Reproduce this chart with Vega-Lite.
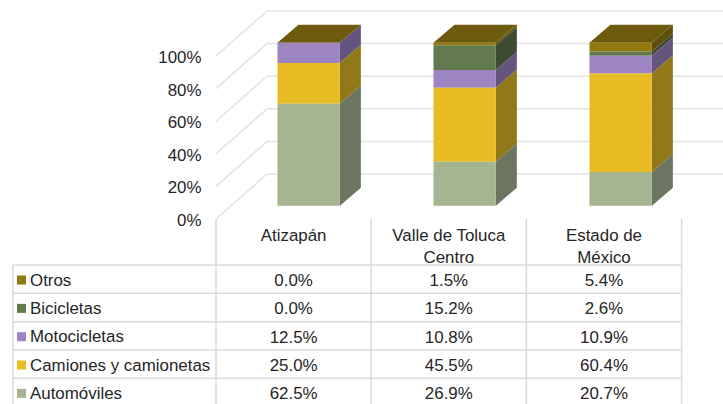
{"$schema":"https://vega.github.io/schema/vega-lite/v6.json","padding":0,"spacing":0,"bounds":"flush","background":"white","config":{"view":{"stroke":null},"text":{"font":"Liberation Sans"},"axis":{"labelFont":"Liberation Sans"}},
"datasets":{
"d":[
{"scenario":"Atizapán","category":"Otros","value":0.0},{"scenario":"Atizapán","category":"Bicicletas","value":0.0},{"scenario":"Atizapán","category":"Motocicletas","value":12.5},{"scenario":"Atizapán","category":"Camiones y camionetas","value":25.0},{"scenario":"Atizapán","category":"Automóviles","value":62.5},
{"scenario":"Valle de Toluca\nCentro","category":"Otros","value":1.5},{"scenario":"Valle de Toluca\nCentro","category":"Bicicletas","value":15.2},{"scenario":"Valle de Toluca\nCentro","category":"Motocicletas","value":10.8},{"scenario":"Valle de Toluca\nCentro","category":"Camiones y camionetas","value":45.5},{"scenario":"Valle de Toluca\nCentro","category":"Automóviles","value":26.9},
{"scenario":"Estado de\nMéxico","category":"Otros","value":5.4},{"scenario":"Estado de\nMéxico","category":"Bicicletas","value":2.6},{"scenario":"Estado de\nMéxico","category":"Motocicletas","value":10.9},{"scenario":"Estado de\nMéxico","category":"Camiones y camionetas","value":60.4},{"scenario":"Estado de\nMéxico","category":"Automóviles","value":20.7}],
"ticks":[{"tick":0},{"tick":20},{"tick":40},{"tick":60},{"tick":80},{"tick":100}],
"edges":[{"edge":0},{"edge":1},{"edge":2},{"edge":3}],
"rows":[{"category":"Otros"},{"category":"Bicicletas"},{"category":"Motocicletas"},{"category":"Camiones y camionetas"},{"category":"Automóviles"}],
"heads":[{"scenario":"Atizapán"},{"scenario":"Valle de Toluca\nCentro"},{"scenario":"Estado de\nMéxico"}]
},
"vconcat":[
{"width":723,"height":219,"resolve":{"scale":{"color":"independent"}},"layer":[
{"data":{"name":"ticks"},"transform":[{"calculate":"[0,1]","as":"d"},{"flatten":["d"]},{"calculate":"datum.d*0.327","as":"gx"},{"calculate":"datum.tick+datum.d*27.6","as":"gy"}],
"mark":{"type":"line","color":"#e3e3e3","strokeWidth":1.5},
"encoding":{"x":{"field":"gx","type":"quantitative","axis":null,"scale":{"domain":[-1.3846,3.25],"nice":false,"zero":false}},"y":{"field":"gy","type":"quantitative","title":null,"scale":{"domain":[0,134.36],"nice":false,"zero":false},"axis":{"orient":"left","offset":-201,"values":[0,20,40,60,80,100],"labelExpr":"datum.value+'%'","domain":false,"ticks":false,"grid":false,"labelPadding":0,"labelFontSize":16.9,"labelColor":"#262626","labelFlush":false,"labelOverlap":false,"labelOffset":1.5}},"detail":{"field":"tick"}}},
{"data":{"name":"ticks"},"transform":[{"calculate":"datum.tick+27.6","as":"gy"}],
"mark":{"type":"rule","color":"#e3e3e3","strokeWidth":1.5},
"encoding":{"x":{"datum":0.327,"type":"quantitative","axis":null},"x2":{"datum":3.25},"y":{"field":"gy","type":"quantitative","title":null}}},
{"data":{"name":"d"},"transform":[{"calculate":"indexof(['Atizapán','Valle de Toluca\\nCentro','Estado de\\nMéxico'],datum.scenario)","as":"col"},{"calculate":"indexof(['Otros','Bicicletas','Motocicletas','Camiones y camionetas','Automóviles'],datum.category)","as":"row"},{"stack":"value","groupby":["scenario"],"sort":[{"field":"row","order":"descending"}],"as":["y0","y1"]},{"calculate":"[0,1]","as":"d"},{"flatten":["d"]},{"calculate":"datum.col+0.794+datum.d*0.1346","as":"sx"},{"calculate":"datum.y0+8.16+datum.d*11.04","as":"lo"},{"calculate":"datum.y1+8.16+datum.d*11.04","as":"hi"}],
"mark":{"type":"area","orient":"vertical"},
"encoding":{"x":{"field":"sx","type":"quantitative","axis":null},"y":{"field":"lo","type":"quantitative","title":null},"y2":{"field":"hi"},"detail":{"field":"scenario"},"color":{"field":"category","type":"nominal","legend":null,"scale":{"domain":["Otros","Bicicletas","Motocicletas","Camiones y camionetas","Automóviles"],"range":["#5f4d0a","#3e4b32","#65557e","#917818","#6b755f"]}}}},
{"data":{"name":"d"},"transform":[{"filter":"datum.category==='Otros'"},{"calculate":"indexof(['Atizapán','Valle de Toluca\\nCentro','Estado de\\nMéxico'],datum.scenario)","as":"col"},{"calculate":"[0,1]","as":"d"},{"flatten":["d"]},{"calculate":"datum.col+0.394+datum.d*0.1346","as":"tl"},{"calculate":"datum.col+0.794+datum.d*0.1346","as":"tr"},{"calculate":"100+8.16+datum.d*11.04","as":"ty"}],
"mark":{"type":"area","orient":"horizontal","color":"#6e5a0c"},
"encoding":{"y":{"field":"ty","type":"quantitative","title":null},"x":{"field":"tl","type":"quantitative","axis":null},"x2":{"field":"tr"},"detail":{"field":"scenario"}}},
{"data":{"name":"d"},"transform":[{"calculate":"indexof(['Atizapán','Valle de Toluca\\nCentro','Estado de\\nMéxico'],datum.scenario)","as":"col"},{"calculate":"indexof(['Otros','Bicicletas','Motocicletas','Camiones y camionetas','Automóviles'],datum.category)","as":"row"},{"stack":"value","groupby":["scenario"],"sort":[{"field":"row","order":"descending"}],"as":["y0","y1"]},{"calculate":"datum.col+0.394","as":"l"},{"calculate":"datum.col+0.794","as":"r"},{"calculate":"datum.y0+8.16","as":"lo"},{"calculate":"datum.y1+8.16","as":"hi"}],
"mark":{"type":"rect"},
"encoding":{"x":{"field":"l","type":"quantitative","axis":null},"x2":{"field":"r"},"y":{"field":"lo","type":"quantitative","title":null},"y2":{"field":"hi"},"color":{"field":"category","type":"nominal","legend":null,"scale":{"domain":["Otros","Bicicletas","Motocicletas","Camiones y camionetas","Automóviles"],"range":["#947810","#637a4f","#9c85c0","#e7bc25","#a5b592"]}}}}
]},
{"width":723,"height":185,"layer":[
{"data":{"name":"edges"},"mark":{"type":"rule","color":"#dadada","strokeWidth":1.5},
"encoding":{"x":{"field":"edge","type":"quantitative","axis":null,"scale":{"domain":[-1.392,3.267],"nice":false,"zero":false}},"y":{"datum":-1.624,"type":"quantitative","axis":null,"scale":{"domain":[-1.624,4.906],"reverse":true,"nice":false,"zero":false}},"y2":{"datum":4.906}}},
{"data":{"name":"rows"},"transform":[{"calculate":"indexof(['Otros','Bicicletas','Motocicletas','Camiones y camionetas','Automóviles'],datum.category)","as":"row"}],"mark":{"type":"rule","color":"#dadada","strokeWidth":1.5},
"encoding":{"x":{"datum":-1.308,"type":"quantitative","axis":null},"x2":{"datum":3},"y":{"field":"row","type":"quantitative","axis":null}}},
{"data":{"name":"rows"},"transform":[{"aggregate":[{"op":"count","as":"n"}]}],"mark":{"type":"rule","color":"#dadada","strokeWidth":1.5},
"encoding":{"x":{"datum":-1.308,"type":"quantitative","axis":null},"y":{"datum":0,"type":"quantitative","axis":null},"y2":{"datum":4.906}}},
{"data":{"name":"heads"},"mark":{"type":"text","baseline":"top","align":"center","fontSize":16.9,"lineBreak":"\n","lineHeight":21.7,"color":"#262626"},"transform":[{"calculate":"indexof(['Atizapán','Valle de Toluca\\nCentro','Estado de\\nMéxico'],datum.scenario)+0.5","as":"cx"}],
"encoding":{"x":{"field":"cx","type":"quantitative","axis":null},"y":{"datum":-1.3,"type":"quantitative","axis":null},"text":{"field":"scenario"}}},
{"data":{"name":"rows"},"transform":[{"calculate":"indexof(['Otros','Bicicletas','Motocicletas','Camiones y camionetas','Automóviles'],datum.category)+0.53","as":"ry"}],"mark":{"type":"point","shape":"square","filled":true,"size":81,"opacity":1},
"encoding":{"x":{"datum":-1.2535,"type":"quantitative","axis":null},"y":{"field":"ry","type":"quantitative","axis":null},"color":{"field":"category","type":"nominal","legend":null,"scale":{"domain":["Otros","Bicicletas","Motocicletas","Camiones y camionetas","Automóviles"],"range":["#947810","#637a4f","#9c85c0","#e7bc25","#a5b592"]}}}},
{"data":{"name":"rows"},"transform":[{"calculate":"indexof(['Otros','Bicicletas','Motocicletas','Camiones y camionetas','Automóviles'],datum.category)+0.55","as":"ry"}],"mark":{"type":"text","align":"left","baseline":"middle","fontSize":16.9,"color":"#262626"},
"encoding":{"x":{"datum":-1.1987,"type":"quantitative","axis":null},"y":{"field":"ry","type":"quantitative","axis":null},"text":{"field":"category"}}},
{"data":{"name":"d"},"transform":[{"calculate":"indexof(['Atizapán','Valle de Toluca\\nCentro','Estado de\\nMéxico'],datum.scenario)+0.5","as":"cx"},{"calculate":"indexof(['Otros','Bicicletas','Motocicletas','Camiones y camionetas','Automóviles'],datum.category)+0.57","as":"ry"},{"calculate":"format(datum.value,'.1f')+'%'","as":"label"}],"mark":{"type":"text","align":"center","baseline":"middle","fontSize":16.9,"color":"#262626"},
"encoding":{"x":{"field":"cx","type":"quantitative","axis":null},"y":{"field":"ry","type":"quantitative","axis":null},"text":{"field":"label"}}}
]}
]}
